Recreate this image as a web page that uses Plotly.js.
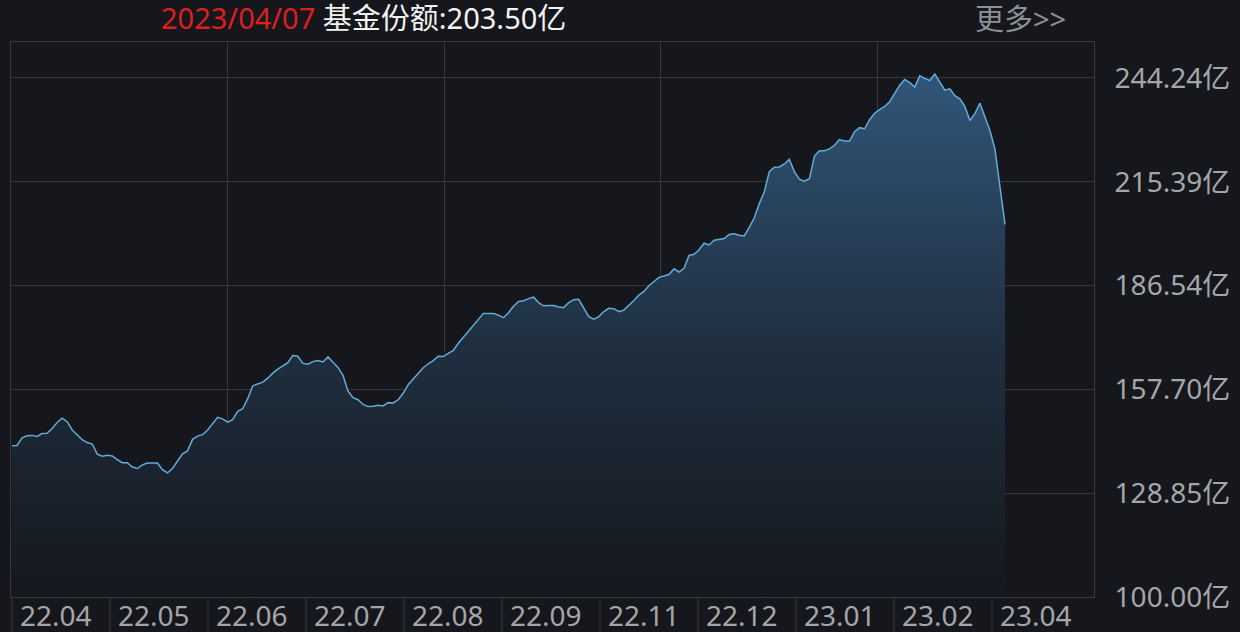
<!DOCTYPE html>
<html>
<head>
<meta charset="utf-8">
<script src="https://cdn.plot.ly/plotly-3.0.1.min.js"></script>
<style>
html,body{margin:0;padding:0;background:#15171c;}
#chart{width:1240px;height:632px;}
</style>
</head>
<body>
<div id="chart"></div>
<script>
// ---- data ----
const titleDate = '2023/04/07';
const titleLabel = '基金份额:';
const titleValue = '203.50亿';
const moreText = '更多>>';
const xLabels = ['22.04','22.05','22.06','22.07','22.08','22.09','22.11','22.12','23.01','23.02','23.04'];
const yTicks = [100.00, 128.85, 157.70, 186.54, 215.39, 244.24];
const yTickText = ['100.00亿','128.85亿','157.70亿','186.54亿','215.39亿','244.24亿'];
// fund shares (亿), one value per sample, oldest first
const shares = [
142.0,142.1,144.2,144.8,144.9,144.6,145.4,145.5,146.8,148.5,
149.7,148.7,146.4,145.0,143.7,142.9,142.5,139.7,139.1,139.4,
139.2,138.2,137.3,137.3,136.1,135.7,136.7,137.2,137.2,137.2,
135.4,134.5,135.7,137.8,139.8,140.6,143.8,144.7,145.1,146.4,
148.1,149.9,149.5,148.6,149.3,151.6,152.3,155.1,158.7,159.2,
159.7,160.8,162.2,163.3,164.3,165.1,167.1,166.9,164.9,164.7,
165.4,165.7,165.3,166.7,165.2,163.8,161.6,157.2,155.4,154.8,
153.5,152.9,153.0,153.3,153.1,154.0,153.9,154.8,156.6,159.0,
160.6,162.2,163.7,164.8,165.7,166.9,166.8,167.7,168.5,170.5,
172.2,173.8,175.7,177.1,178.8,178.8,178.8,178.3,177.6,179.0,
180.8,182.1,182.3,182.9,183.3,181.8,180.9,181.0,181.0,180.6,
180.4,181.8,182.6,182.7,180.2,177.9,177.2,177.9,179.3,180.2,
180.1,179.3,179.7,181.0,182.4,183.9,184.9,186.5,187.7,188.8,
189.2,189.6,191.2,190.3,191.3,194.9,195.2,196.5,198.3,197.8,
199.1,199.3,199.6,200.7,200.9,200.5,200.3,202.7,205.3,209.3,
212.5,218.2,219.4,219.5,220.3,221.6,218.2,216.1,215.5,216.2,
222.5,224.0,224.0,224.5,225.5,227.1,226.7,226.7,229.3,230.4,
230.1,232.6,234.4,235.4,236.3,237.6,240.0,242.2,243.8,242.9,
241.7,244.8,244.1,243.5,245.3,242.9,240.8,241.2,239.3,238.4,
236.3,232.4,234.3,237.2,233.5,229.6,224.4,214.5,203.5
];

// ---- layout helpers (styling only) ----
const W = 1240, H = 632;
const M = {l: 11, r: 146, t: 42, b: 35};
const plotW = W - M.l - M.r, plotH = H - M.t - M.b;
const idx = shares.map((_, i) => i);
const pxPerPt = 993 / (shares.length - 1);
const xr0 = -1 / pxPerPt;
const xr1 = xr0 + plotW / pxPerPt;
const xGrid = [1,2,3,4].map(i => xr0 + (xr1 - xr0) * i / 5);

const FONT = 'Noto Sans, Noto Sans CJK SC, sans-serif';
const GRID = '#36383d';

const annotations = [];
annotations.push({
  xref: 'paper', yref: 'paper',
  x: (159 - M.l) / plotW, y: (H - M.b - 17) / plotH,
  xanchor: 'left', yanchor: 'middle', showarrow: false,
  text: '<span style="color:#dc1f1f">' + titleDate + '</span> ' + titleLabel + titleValue,
  font: {family: FONT, size: 29, color: '#f2f2f2'}
});
annotations.push({
  xref: 'paper', yref: 'paper',
  x: (973 - M.l) / plotW, y: (H - M.b - 18) / plotH,
  xanchor: 'left', yanchor: 'middle', showarrow: false,
  text: moreText,
  font: {family: FONT, size: 29, color: '#8e9095'}
});
const cellW = 98;
const shapes = [];
xLabels.forEach((lab, i) => {
  const cx = 12 + cellW * i;
  annotations.push({
    xref: 'paper', yref: 'paper',
    x: (cx + 6 - M.l) / plotW, y: -18 / plotH,
    xanchor: 'left', yanchor: 'middle', showarrow: false,
    text: lab,
    font: {family: FONT, size: 28, color: '#a4a6aa'}
  });
  shapes.push({
    type: 'line', xref: 'paper', yref: 'paper',
    x0: (cx - M.l) / plotW, x1: (cx - M.l) / plotW,
    y0: 0, y1: -M.b / plotH,
    line: {color: GRID, width: 1}
  });
});

const trace = {
  x: idx, y: shares,
  type: 'scatter', mode: 'lines',
  line: {color: '#62acd8', width: 1.5},
  fill: 'tozeroy',
  fillgradient: {
    type: 'vertical',
    start: 100, stop: 250,
    colorscale: [[0, '#15181d'], [0.45, '#1f2e3f'], [1, '#32587c']]
  },
  hoverinfo: 'skip'
};

const layout = {
  width: W, height: H,
  margin: M,
  paper_bgcolor: '#15171c',
  plot_bgcolor: '#15171c',
  showlegend: false,
  font: {family: FONT},
  xaxis: {
    range: [xr0, xr1],
    tickvals: xGrid, showticklabels: false,
    showgrid: true, gridcolor: GRID, gridwidth: 1,
    zeroline: false, showline: true, linecolor: GRID, mirror: true,
    ticks: ''
  },
  yaxis: {
    range: [100, 254.2],
    side: 'right',
    tickvals: yTicks, ticktext: yTickText,
    showgrid: true, gridcolor: GRID, gridwidth: 1,
    zeroline: false, showline: true, linecolor: GRID, mirror: true,
    ticks: '', ticklabelstandoff: 14,
    tickfont: {family: FONT, size: 28, color: '#a4a6aa'}
  },
  annotations: annotations,
  shapes: shapes
};

Plotly.newPlot('chart', [trace], layout, {displayModeBar: false, staticPlot: true});
</script>
</body>
</html>
